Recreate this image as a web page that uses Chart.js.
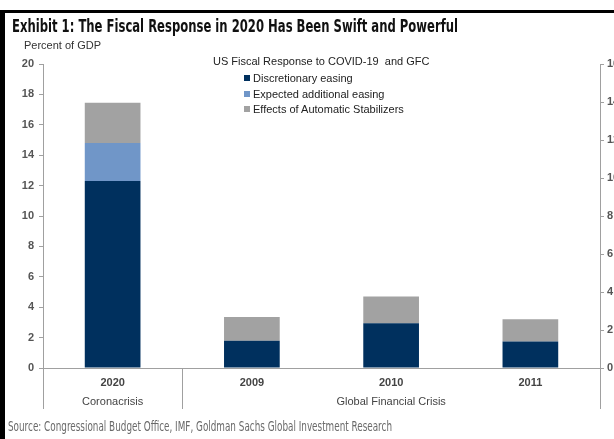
<!DOCTYPE html>
<html lang="en">
<head>
<meta charset="UTF-8">
<title>Exhibit 1: The Fiscal Response in 2020</title>
<script src="https://cdn.jsdelivr.net/npm/chart.js"></script>
<style>
  html, body { margin: 0; padding: 0; background: #fff; overflow: hidden; }
  #wrap { position: relative; width: 614px; height: 439px; overflow: hidden; }
  #chartBox { position: absolute; left: 0; top: 0; width: 630px; height: 439px; }
  .frameLeft { position: absolute; left: 0; top: 10px; width: 5px; height: 429px; background: #000; }
  .frameTop { position: absolute; left: 0; top: 10px; width: 614px; height: 3px; background: #000; }
  .fit { transform-origin: 0 0; white-space: pre; }
  #title { position: absolute; left: 12px; top: 16px; font: bold 17px "DejaVu Sans Condensed", sans-serif; color: #111; }
  #unit { position: absolute; left: 24px; top: 39px; font: 11px "Liberation Sans", Arial, sans-serif; color: #333; }
  #legend { position: absolute; left: 213px; top: 55px; font: 11px "Liberation Sans", Arial, sans-serif; color: #222; }
  #legend .head { margin-bottom: 4px; white-space: pre; }
  #legend .item { margin-left: 31px; height: 15.5px; line-height: 15.5px; white-space: nowrap; }
  #legend .sw { display: inline-block; width: 6px; height: 6px; margin-right: 3px; vertical-align: 1px; }
  #source { position: absolute; left: 8px; top: 418px; font: 14px "DejaVu Sans Condensed", sans-serif; color: #6a6a6a; }
</style>
</head>
<body>
<div id="wrap">
  <div id="chartBox"><canvas id="fiscalChart" width="630" height="439"></canvas></div>
  <div class="frameLeft"></div>
  <div class="frameTop"></div>
  <div id="title" class="fit" data-w="446">Exhibit 1: The Fiscal Response in 2020 Has Been Swift and Powerful</div>
  <div id="unit">Percent of GDP</div>
  <div id="legend"></div>
  <div id="source" class="fit" data-w="384">Source: Congressional Budget Office, IMF, Goldman Sachs Global Investment Research</div>
</div>

<script>
// data (percent of GDP)
const years = ["2020", "2009", "2010", "2011"];
const groups = ["Coronacrisis", "Global Financial Crisis"];
const groupSpans = [[0, 0], [1, 3]];
const discretionary = [12.3, 1.8, 2.95, 1.75];
const expectedEasing = [2.5, 0, 0, 0];
const stabilizers = [2.65, 1.55, 1.75, 1.45];

const seriesNames = ["Discretionary easing", "Expected additional easing", "Effects of Automatic Stabilizers"];
const seriesColors = ["#00305e", "#7096c8", "#a2a2a2"];
const legendTitle = "US Fiscal Response to COVID-19  and GFC";

// squeeze the condensed-looking texts to the widths in the picture
document.querySelectorAll(".fit").forEach(el => {
    const w = el.getBoundingClientRect().width;
    el.style.transform = `scaleX(${el.dataset.w / w})`;
});

// legend
const legendEl = document.getElementById("legend");
let html = `<div class="head">${legendTitle}</div>`;
seriesNames.forEach((name, i) => {
    html += `<div class="item"><span class="sw" style="background:${seriesColors[i]}"></span>${name}</div>`;
});
legendEl.innerHTML = html;

const axisGrey = "#a0a0a0";
const tickFont = { family: "'Liberation Sans', Arial, sans-serif", size: 11, weight: "bold" };

// divider lines under the axis and group captions
const groupPlugin = {
    id: "groupPlugin",
    afterDraw(chart) {
        const ctx = chart.ctx;
        const x = chart.scales.x;
        const area = chart.chartArea;
        const half = (x.getPixelForValue(1) - x.getPixelForValue(0)) / 2;
        ctx.save();
        ctx.strokeStyle = axisGrey;
        ctx.lineWidth = 1;
        const cuts = [area.left];
        groupSpans.forEach(span => cuts.push(x.getPixelForValue(span[1]) + half));
        cuts.forEach(px => {
            const p = Math.round(px) + 0.5;
            ctx.beginPath();
            ctx.moveTo(p, area.bottom);
            ctx.lineTo(p, area.bottom + 41);
            ctx.stroke();
        });
        ctx.fillStyle = "#444";
        ctx.font = "11px 'Liberation Sans', Arial, sans-serif";
        ctx.textAlign = "center";
        ctx.textBaseline = "middle";
        groups.forEach((g, i) => {
            const a = x.getPixelForValue(groupSpans[i][0]);
            const b = x.getPixelForValue(groupSpans[i][1]);
            ctx.fillText(g, (a + b) / 2, area.bottom + 34);
        });
        ctx.restore();
    }
};

new Chart(document.getElementById("fiscalChart"), {
    type: "bar",
    data: {
        labels: years,
        datasets: [
            { label: seriesNames[0], data: discretionary, backgroundColor: seriesColors[0], yAxisID: "y" },
            { label: seriesNames[1], data: expectedEasing, backgroundColor: seriesColors[1], yAxisID: "y" },
            { label: seriesNames[2], data: stabilizers, backgroundColor: seriesColors[2], yAxisID: "y" }
        ]
    },
    options: {
        responsive: false,
        animation: false,
        layout: { padding: { top: 64, left: 0, right: 0, bottom: 0 } },
        datasets: { bar: { barPercentage: 0.4, categoryPercentage: 1, borderWidth: 0 } },
        plugins: { legend: { display: false }, tooltip: { enabled: false } },
        scales: {
            x: {
                stacked: true,
                grid: { display: false, drawTicks: false },
                border: { color: axisGrey },
                ticks: { color: "#444", font: tickFont, padding: 8 },
                afterFit(s) { s.height = 71; }
            },
            y: {
                stacked: true,
                min: 0, max: 20,
                grid: { drawOnChartArea: false, tickLength: 4, color: axisGrey },
                border: { color: axisGrey },
                ticks: { stepSize: 2, color: "#555", font: tickFont, padding: 5 },
                afterFit(s) { s.width = 43; }
            },
            y2: {
                position: "right",
                min: 0, max: 16,
                grid: { drawOnChartArea: false, tickLength: 4, color: axisGrey },
                border: { color: axisGrey },
                ticks: { stepSize: 2, color: "#555", font: tickFont, padding: 3 },
                afterFit(s) { s.width = 30; }
            }
        }
    },
    plugins: [groupPlugin]
});
</script>
</body>
</html>
